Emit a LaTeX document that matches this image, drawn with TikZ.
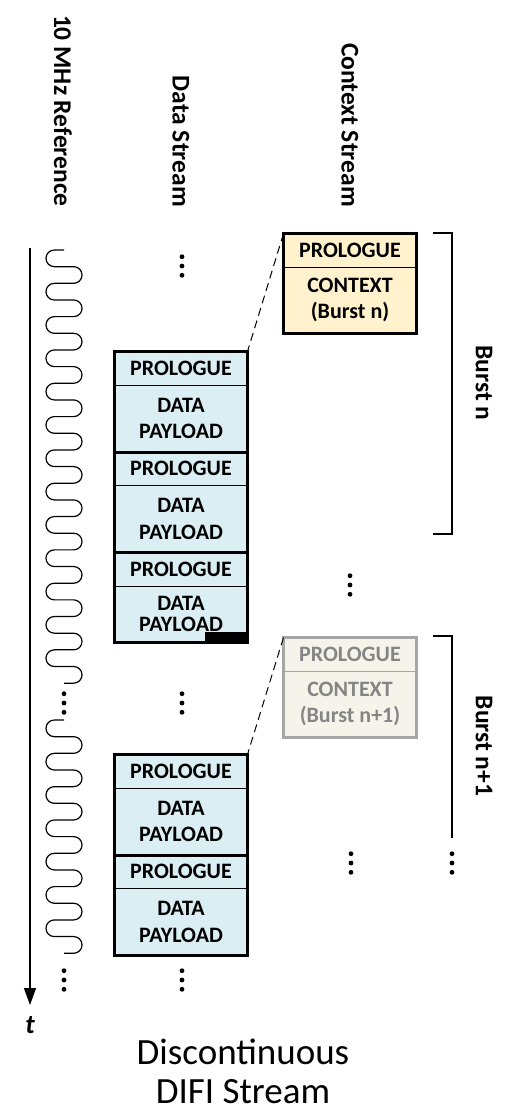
\documentclass[tikz,border=0pt]{standalone}
\usepackage{fontspec}
\setmainfont{Carlito}
\usetikzlibrary{positioning,arrows.meta}

\definecolor{datablue}{HTML}{DAEEF3}
\definecolor{ctxgold}{HTML}{FFF2CC}
\definecolor{ghostfill}{HTML}{F6F4EA}
\definecolor{ghostline}{HTML}{A6A6A6}
\definecolor{ghosttext}{HTML}{858585}

\tikzset{
  pktcell/.style={draw,rectangle,line width=0.8pt,inner sep=0pt,outer sep=0pt,
    minimum width=133pt,align=center,font=\fontsize{22}{26.5}\selectfont\bfseries},
  prolog/.style={pktcell,minimum height=33.5pt},
  payload/.style={pktcell,minimum height=67pt},
  ctxbody/.style={pktcell,minimum height=66pt},
  datacell/.style={fill=datablue},
  ctxcell/.style={fill=ctxgold},
  ghostcell/.style={fill=ghostfill,draw=ghostline,text=ghosttext},
  pktedge/.style={line width=3pt},
  title/.style={rotate=-90,anchor=east,inner sep=0pt,font=\fontsize{25.5}{30}\selectfont\bfseries},
  burstlbl/.style={rotate=-90,inner sep=0pt,font=\fontsize{25.5}{30}\selectfont\bfseries},
  bracket/.style={line width=2pt},
  link/.style={line width=1pt,dash pattern=on 8pt off 5pt},
  clock/.style={line width=1.2pt}
}

\begin{document}
\begin{tikzpicture}[x=1pt,y=1pt]
\useasboundingbox (0,0) rectangle (505,-1111);
% column titles
\node[title] (clkttl) at (63,-207) {10 MHz Reference};
\node[title] (datattl) at (181,-207) {Data Stream};
\node[title] (ctxttl) at (350,-207) {Context Stream};
% time axis and clock
\coordinate (t0) at (30,-248);
\coordinate (t1) at (30,-1005);
\draw[line width=1.3pt,-{Triangle[length=17pt,width=12pt]}] (t0) -- (t1);
\node[font=\fontsize{27}{30}\selectfont\bfseries\itshape] (tlbl) at (30,-1025) {t};
\draw[clock] (64,-250) \foreach \k in {1,...,13}{ -- ++(-9.7,0) arc (90:270:8.33pt) -- ++(19.4,0) arc (90:-90:8.33pt) -- ++(-9.7,0) };
\draw[clock] (64,-720) \foreach \k in {1,...,7}{ -- ++(-9.7,0) arc (90:270:8.33pt) -- ++(19.4,0) arc (90:-90:8.33pt) -- ++(-9.7,0) };
% data stream, burst n
\node[prolog,datacell] (d1p) at (181,-368.25) {PROLOGUE};
\node[payload,datacell,below=0pt of d1p] (d1d) {DATA\\PAYLOAD};
\node[prolog,datacell,below=0pt of d1d] (d2p) {PROLOGUE};
\node[payload,datacell,below=0pt of d2p] (d2d) {DATA\\PAYLOAD};
\node[prolog,datacell,below=0pt of d2d] (d3p) {PROLOGUE};
\node[payload,datacell,minimum height=56pt,font=\fontsize{22}{21.5}\selectfont\bfseries,below=0pt of d3p] (d3d) {DATA\\PAYLOAD};
\node[fill=black,inner sep=0pt,minimum width=42pt,minimum height=10pt,anchor=south east] (d3end) at (d3d.south east) {};
\draw[pktedge] (d1p.north west) rectangle (d3d.south east);
\draw[pktedge] (d2p.north west) -- (d2p.north east);
\draw[pktedge] (d3p.north west) -- (d3p.north east);
% data stream, burst n+1
\node[prolog,datacell] (d4p) at (181,-771.25) {PROLOGUE};
\node[payload,datacell,below=0pt of d4p] (d4d) {DATA\\PAYLOAD};
\node[prolog,datacell,below=0pt of d4d] (d5p) {PROLOGUE};
\node[payload,datacell,below=0pt of d5p] (d5d) {DATA\\PAYLOAD};
\draw[pktedge] (d4p.north west) rectangle (d5d.south east);
\draw[pktedge] (d5p.north west) -- (d5p.north east);
% context packets
\node[prolog,ctxcell] (c1p) at (350,-250.25) {PROLOGUE};
\node[ctxbody,ctxcell,below=0pt of c1p] (c1d) {CONTEXT\\(Burst n)};
\draw[pktedge] (c1p.north west) rectangle (c1d.south east);
\node[prolog,ghostcell] (c2p) at (350,-654.25) {PROLOGUE};
\node[ctxbody,ghostcell,below=0pt of c2p] (c2d) {CONTEXT\\(Burst n+1)};
\draw[pktedge,ghostline] (c2p.north west) rectangle (c2d.south east);
\draw[link] (c1p.north west) -- (d1p.north east);
\draw[link] (c2p.north west) -- (d4p.north east);
% bursts
\coordinate (bntop) at (433,-233);
\coordinate (bnend) at (433,-534);
\draw[bracket] (bntop) -- ++(19,0) |- (bnend);
\node[burstlbl] (bnlbl) at (484,-383) {Burst n};
\coordinate (bmtop) at (433,-636);
\coordinate (bmend) at (452,-838);
\draw[bracket] (bmtop) -| (bmend);
\node[burstlbl] (bmlbl) at (484,-746) {Burst n+1};
% continuation dots
\foreach \x/\y in {182/266,182/703,182/980,64/703,64/980,350/585,351/863,452/863}
  \foreach \d in {-9.3,0,9.3}
    \fill (\x,{-\y+\d}) circle (2.4pt);
\node[align=center,inner sep=0pt,font=\fontsize{37}{39}\selectfont] (cap) at (243,-1071) {Discontinuous\\DIFI Stream};
\end{tikzpicture}
\end{document}
